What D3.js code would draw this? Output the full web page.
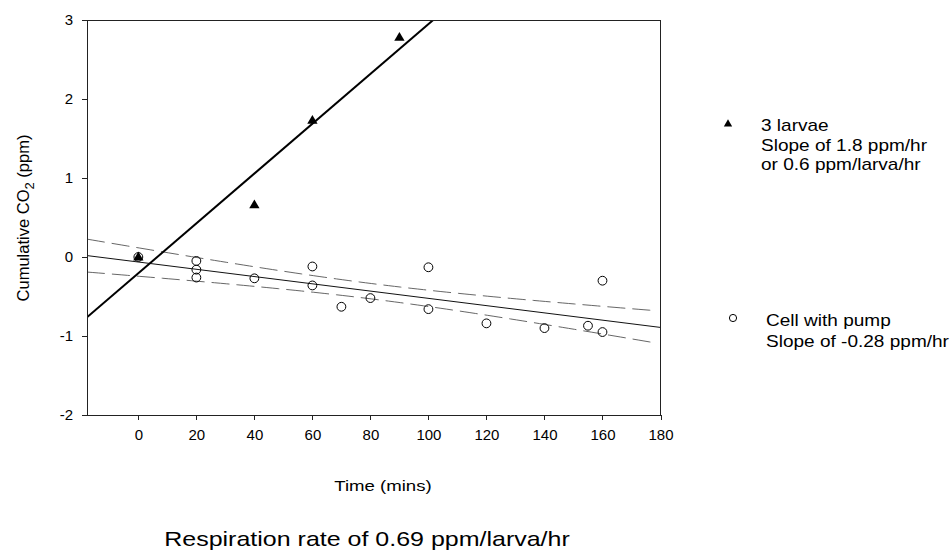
<!DOCTYPE html>
<html>
<meta charset="utf-8">
<head>
<title>Respiration rate</title>
<script src="https://cdn.jsdelivr.net/npm/d3@7"></script>
<style>
body { margin: 0; background: #fff; }
text { font-family: "Liberation Sans", Arial, sans-serif; fill: #000; }
.frame line { stroke: #222; stroke-width: 1; shape-rendering: crispEdges; }
</style>
</head>
<body>
<div id="grafico"></div>
<script>
// data
var larvaeTime = [0, 40, 60, 90];
var larvaeCO2 = [0, 0.66, 1.73, 2.78];

var pumpTime = [0, 20, 20, 20, 40, 60, 60, 70, 80, 100, 100, 120, 140, 155, 160, 160];
var pumpCO2 = [0, -0.05, -0.16, -0.26, -0.27, -0.12, -0.36, -0.63, -0.52, -0.13, -0.66, -0.84, -0.90, -0.87, -0.95, -0.30];

var xTicks = [0, 20, 40, 60, 80, 100, 120, 140, 160, 180];
var yTicks = [-2, -1, 0, 1, 2, 3];
var xDomain = [-17.7, 180];
var yDomain = [-2, 3];

var larvaeLegend = ["3 larvae", "Slope of 1.8 ppm/hr", "or 0.6 ppm/larva/hr"];
var pumpLegend = ["Cell with pump", "Slope of -0.28 ppm/hr"];
var titulo = "Respiration rate of 0.69 ppm/larva/hr";
var bandT = 1.761; // t value used for the dashed confidence band

var W = 952, H = 553;
var plot = {left: 87, right: 660.5, top: 20, bottom: 415};

var x = d3.scaleLinear().domain(xDomain).range([plot.left, plot.right]);
var y = d3.scaleLinear().domain(yDomain).range([plot.bottom, plot.top]);

var svg = d3.select("#grafico").append("svg")
	.attr("width", W)
	.attr("height", H);

svg.append("defs").append("clipPath")
	.attr("id", "clip")
  .append("rect")
	.attr("x", plot.left).attr("y", plot.top)
	.attr("width", plot.right - plot.left)
	.attr("height", plot.bottom - plot.top);

// least squares fit
function ajuste(xs, ys) {
	var n = xs.length,
		mx = d3.mean(xs),
		my = d3.mean(ys),
		sxx = d3.sum(xs, function(v) { return (v - mx) * (v - mx); }),
		sxy = d3.sum(xs, function(v, i) { return (v - mx) * (ys[i] - my); });
	var b = sxy / sxx, a = my - b * mx;
	var sse = d3.sum(xs, function(v, i) { var r = ys[i] - (a + b * v); return r * r; });
	return {a: a, b: b, n: n, mx: mx, sxx: sxx, s: Math.sqrt(sse / (n - 2))};
}

var fitL = ajuste(larvaeTime, larvaeCO2);
var fitP = ajuste(pumpTime, pumpCO2);

var lines = svg.append("g").attr("clip-path", "url(#clip)");
var linea = d3.line().x(function(d) { return x(d[0]); }).y(function(d) { return y(d[1]); });

// confidence band of the pump fit
var xs = d3.range(xDomain[0], xDomain[1] + 0.01, 2);
[1, -1].forEach(function(sg) {
	var pts = xs.map(function(v) {
		var half = bandT * fitP.s * Math.sqrt(1 / fitP.n + (v - fitP.mx) * (v - fitP.mx) / fitP.sxx);
		return [v, fitP.a + fitP.b * v + sg * half];
	});
	lines.append("path")
		.attr("d", linea(pts))
		.attr("fill", "none")
		.attr("stroke", "#555")
		.attr("stroke-width", 0.9)
		.attr("stroke-dasharray", "18,7");
});

lines.append("path")
	.attr("d", linea(xDomain.map(function(v) { return [v, fitP.a + fitP.b * v]; })))
	.attr("fill", "none")
	.attr("stroke", "#111")
	.attr("stroke-width", 1);

lines.append("path")
	.attr("d", linea(xDomain.map(function(v) { return [v, fitL.a + fitL.b * v]; })))
	.attr("fill", "none")
	.attr("stroke", "#000")
	.attr("stroke-width", 2);

// markers
var tri = d3.symbol().type(d3.symbolTriangle).size(46);

svg.append("g").selectAll("circle")
	.data(pumpTime.map(function(t, i) { return [t, pumpCO2[i]]; }))
  .enter().append("circle")
	.attr("cx", function(d) { return x(d[0]); })
	.attr("cy", function(d) { return y(d[1]); })
	.attr("r", 4.4)
	.attr("fill", "none")
	.attr("stroke", "#000")
	.attr("stroke-width", 1);

svg.append("g").selectAll("path")
	.data(larvaeTime.map(function(t, i) { return [t, larvaeCO2[i]]; }))
  .enter().append("path")
	.attr("d", tri)
	.attr("transform", function(d) { return "translate(" + x(d[0]) + "," + (y(d[1]) + 0.5) + ")"; })
	.attr("fill", "#000");

// frame
var frame = svg.append("g").attr("class", "frame");
frame.append("line").attr("x1", plot.left).attr("x2", plot.right).attr("y1", plot.top).attr("y2", plot.top);
frame.append("line").attr("x1", plot.left).attr("x2", plot.right).attr("y1", plot.bottom).attr("y2", plot.bottom);
frame.append("line").attr("x1", plot.left).attr("x2", plot.left).attr("y1", plot.top).attr("y2", plot.bottom);
frame.append("line").attr("x1", plot.right).attr("x2", plot.right).attr("y1", plot.top).attr("y2", plot.bottom);

// plain hyphen for negatives, no decimals
var fmt = function(d) { return String(d); };
var xAxis = d3.axisBottom(x).tickValues(xTicks).tickFormat(fmt).tickSize(5).tickPadding(9);
var yAxis = d3.axisLeft(y).tickValues(yTicks).tickFormat(fmt).tickSize(5).tickPadding(9);

var gx = svg.append("g")
	.attr("transform", "translate(0," + plot.bottom + ")")
	.call(xAxis);
var gy = svg.append("g")
	.attr("transform", "translate(" + plot.left + ",0)")
	.call(yAxis);
[gx, gy].forEach(function(g) {
	g.select(".domain").remove();
	g.selectAll("line").attr("stroke", "#222").attr("shape-rendering", "crispEdges");
	g.selectAll("text")
		.style("font-family", "'Liberation Sans', Arial, sans-serif")
		.style("font-size", "15px")
		.attr("fill", "#000");
});

// stretched text helper, the picture has wide lettering
function texto(str, px, py, size, sx, anchor) {
	return svg.append("text")
		.attr("transform", "translate(" + px + "," + py + ") scale(" + sx + ",1)")
		.attr("text-anchor", anchor || "start")
		.style("font-size", size + "px")
		.text(str);
}

texto("Time (mins)", 383, 491, 15, 1.24, "middle");
texto(titulo, 367, 546, 21, 1.19, "middle");

// y axis title with subscript
var yl = svg.append("text")
	.attr("transform", "translate(29,218) rotate(-90)")
	.attr("text-anchor", "middle")
	.style("font-size", "16.5px");
yl.append("tspan").text("Cumulative CO");
yl.append("tspan").attr("dy", 5).style("font-size", "13px").text("2");
yl.append("tspan").attr("dy", -5).text(" (ppm)");

// legend
svg.append("path")
	.attr("d", d3.symbol().type(d3.symbolTriangle).size(30))
	.attr("transform", "translate(728,124)")
	.attr("fill", "#000");
larvaeLegend.forEach(function(t, i) { texto(t, 761, 131 + i * 19.7, 17, 1.12); });

svg.append("circle")
	.attr("cx", 733).attr("cy", 318).attr("r", 3.6)
	.attr("fill", "none").attr("stroke", "#000").attr("stroke-width", 1);
pumpLegend.forEach(function(t, i) { texto(t, 766, 326 + i * 20.5, 17, 1.12); });
</script>
</body>
</html>
